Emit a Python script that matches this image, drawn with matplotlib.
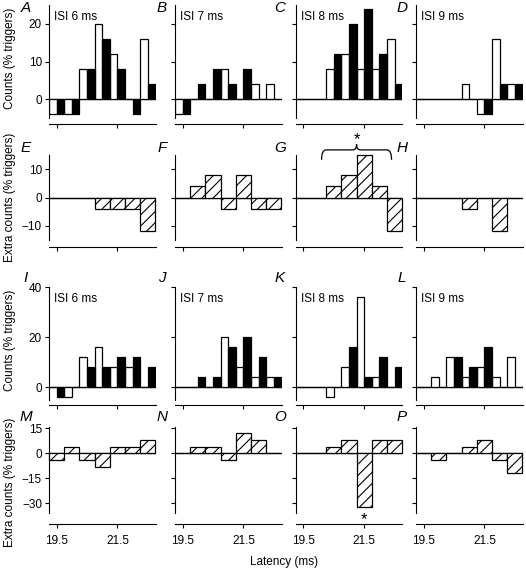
import numpy as np
import matplotlib
matplotlib.use('Agg')
import matplotlib.pyplot as plt
from matplotlib.path import Path
from matplotlib.patches import PathPatch

plt.rcParams['font.family'] = ['Liberation Sans', 'DejaVu Sans']
plt.rcParams['hatch.linewidth'] = 0.8

# bin centres (ms), 0.5 ms bins
bins = [19.5, 20.0, 20.5, 21.0, 21.5, 22.0, 22.5]

# counts (% triggers): white = left half of bin, black = right half
a_white = [-4, -4, 8, 20, 12, 0, 16]
a_black = [-4, -4, 8, 16, 8, -4, 4]
b_white = [-4, 0, 0, 8, 0, 4, 4]
b_black = [-4, 4, 8, 4, 8, 0, 0]
c_white = [0, 0, 8, 12, 8, 8, 16]
c_black = [0, 0, 12, 20, 24, 12, 4]
d_white = [0, 0, 0, 4, -4, 16, 4]
d_black = [0, 0, 0, 0, -4, 4, 4]

i_white = [0, -4, 12, 16, 8, 8, 0]
i_black = [-4, 0, 8, 8, 12, 12, 8]
j_white = [0, 0, 0, 20, 8, 4, 4]
j_black = [0, 4, 4, 16, 20, 12, 4]
k_white = [0, 0, -4, 8, 36, 4, 0]
k_black = [0, 0, 0, 16, 4, 12, 8]
l_white = [0, 4, 12, 4, 8, 4, 12]
l_black = [0, 0, 12, 8, 16, 0, 0]

# extra counts (% triggers)
e_extra = [0, 0, 0, -4, -4, -4, -12]
f_extra = [0, 4, 8, -4, 8, -4, -4]
g_extra = [0, 0, 4, 8, 15, 4, -12]
h_extra = [0, 0, 0, -4, 0, -12, 0]
m_extra = [-4, 4, -4, -8, 4, 4, 8]
n_extra = [0, 4, 4, -4, 12, 8, 0]
o_extra = [0, 0, 4, 8, -32, 8, 8]
p_extra = [0, -4, 0, 4, 8, -4, -12]

isi_labels = ['ISI 6 ms', 'ISI 7 ms', 'ISI 8 ms', 'ISI 9 ms']
letters = ['ABCD', 'EFGH', 'IJKL', 'MNOP']

W, H = 526, 572
fig = plt.figure(figsize=(W / 100, H / 100), dpi=100)

col_left = [49, 175, 295.7, 416]
col_w = 106.5
# (top px, bottom px, x-axis offset px, ylim, yticks)
rows = [
    (5.25, 117.75, 6.3, (-5, 25), [0, 10, 20]),
    (155, 240, 6.7, (-15, 15), [-10, 0, 10]),
    (287.3, 400, 5.0, (-5, 40), [0, 20, 40]),
    (426.7, 513.3, 11.0, (-36, 16), [-30, -15, 0, 15]),
]
letter_x = [26, 162, 280, 402]
letter_y = [8, 148, 278, 417]


def make_ax(r, c):
    top, bot, off, ylim, yticks = rows[r]
    ax = fig.add_axes([col_left[c] / W, 1 - bot / H, col_w / W, (bot - top) / H])
    ax.set_xlim(19.25, 22.75)
    ax.set_ylim(*ylim)
    ax.spines['top'].set_visible(False)
    ax.spines['right'].set_visible(False)
    ax.spines['bottom'].set_position(('outward', off * 0.72))
    ax.set_xticks([19.5, 21.5])
    ax.set_yticks(yticks)
    ax.tick_params(direction='out', length=3, width=0.8, pad=2, labelsize=8.5)
    if r == 3:
        ax.set_xticklabels(['19.5', '21.5'])
        ax.tick_params(axis='x', pad=5)
    else:
        ax.set_xticklabels([])
    if c > 0:
        ax.set_yticklabels([])
    ax.patch.set_visible(False)
    ax.axhline(0, color='black', lw=0.9, zorder=1)
    fig.text(letter_x[c] / W, 1 - letter_y[r] / H, letters[r][c], style='italic',
             fontsize=11, ha='center', va='center')
    return ax


def counts_panel(r, c, white, black):
    ax = make_ax(r, c)
    x = np.array(bins)
    ax.bar(x - 0.125, white, width=0.25, color='white', edgecolor='black', lw=0.9, zorder=2)
    ax.bar(x + 0.125, black, width=0.25, color='black', edgecolor='black', lw=0.9, zorder=2)
    lo, hi = ax.get_ylim()
    ax.text(19.25 + 0.18, hi - (hi - lo) * 0.1, isi_labels[c], fontsize=8.5, ha='left', va='center')
    return ax


def extra_panel(r, c, extra):
    ax = make_ax(r, c)
    ax.bar(bins, extra, width=0.5, color='white', edgecolor='black', hatch='///', lw=0.9,
           zorder=2, clip_on=False)
    return ax


top_counts = [(a_white, a_black), (b_white, b_black), (c_white, c_black), (d_white, d_black)]
bot_counts = [(i_white, i_black), (j_white, j_black), (k_white, k_black), (l_white, l_black)]
top_extra = [e_extra, f_extra, g_extra, h_extra]
bot_extra = [m_extra, n_extra, o_extra, p_extra]

axes = {}
for c in range(4):
    counts_panel(0, c, *top_counts[c])
    axes[(1, c)] = extra_panel(1, c, top_extra[c])
    counts_panel(2, c, *bot_counts[c])
    axes[(3, c)] = extra_panel(3, c, bot_extra[c])

# brace + asterisk over panel G
ax_g = axes[(1, 2)]
x0, x1, xc = 20.1, 22.4, 21.25
y_end, y_bar, y_peak = 13.3, 16.8, 18.8
verts = [(x0, y_end), (x0, y_bar), (x0 + 0.15, y_bar),
         (xc - 0.12, y_bar),
         (xc, y_bar), (xc, y_peak),
         (xc, y_bar), (xc + 0.12, y_bar),
         (x1 - 0.15, y_bar),
         (x1, y_bar), (x1, y_end)]
codes = [Path.MOVETO, Path.CURVE3, Path.CURVE3,
         Path.LINETO,
         Path.CURVE3, Path.CURVE3,
         Path.CURVE3, Path.CURVE3,
         Path.LINETO,
         Path.CURVE3, Path.CURVE3]
ax_g.add_patch(PathPatch(Path(verts, codes), fill=False, lw=0.9, clip_on=False))
ax_g.text(xc, 20.5, '*', fontsize=12, ha='center', va='center', clip_on=False)

ax_o = axes[(3, 2)]
ax_o.text(21.5, -40, '*', fontsize=12, ha='center', va='center', clip_on=False)

# axis labels
fig.text(10 / W, 1 - 58 / H, 'Counts (% triggers)', rotation=90, fontsize=8.5, ha='center', va='center')
fig.text(10 / W, 1 - 197 / H, 'Extra counts (% triggers)', rotation=90, fontsize=8.5, ha='center', va='center')
fig.text(10 / W, 1 - 340 / H, 'Counts (% triggers)', rotation=90, fontsize=8.5, ha='center', va='center')
fig.text(10 / W, 1 - 482 / H, 'Extra counts (% triggers)', rotation=90, fontsize=8.5, ha='center', va='center')
fig.text(284 / W, 1 - 562 / H, 'Latency (ms)', fontsize=8.5, ha='center', va='center')

fig.savefig('out.png', dpi=100)
